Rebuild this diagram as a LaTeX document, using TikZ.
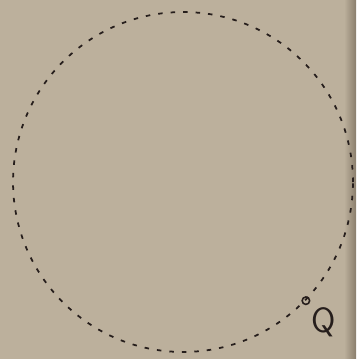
\documentclass[tikz,border=0pt]{standalone}
\usepackage{tikz}
\usetikzlibrary{positioning}
\definecolor{papertan}{RGB}{188,176,156}
\definecolor{paperedge}{RGB}{138,126,108}
\definecolor{inkdark}{RGB}{38,30,28}
\tikzset{
  ring/.style={circle, draw=inkdark, line width=1pt, dash pattern=on 0.09cm off 0.16cm, minimum size=6.8cm, inner sep=0pt},
  dot/.style={circle, draw=inkdark, line width=0.9pt, minimum size=0.15cm, inner sep=0pt},
  lbl/.style={inner sep=0pt, text=inkdark, font=\sffamily\fontsize{20}{24}\selectfont},
}
\begin{document}
\begin{tikzpicture}[x=0.02cm, y=-0.02cm]
    \useasboundingbox (0,0) rectangle (356,359);
    \fill[papertan] (0,0) rectangle (356,359);
    \shade[left color=papertan, right color=paperedge] (344,0) rectangle (356,359);
    \node[ring] (ring) at (183,182) {};
    \node[dot] (q) at (ring.-44) {};
    \node[lbl, below right=0.06cm and 0.04cm of q] (qlbl) {Q};
  \end{tikzpicture}
\end{document}
